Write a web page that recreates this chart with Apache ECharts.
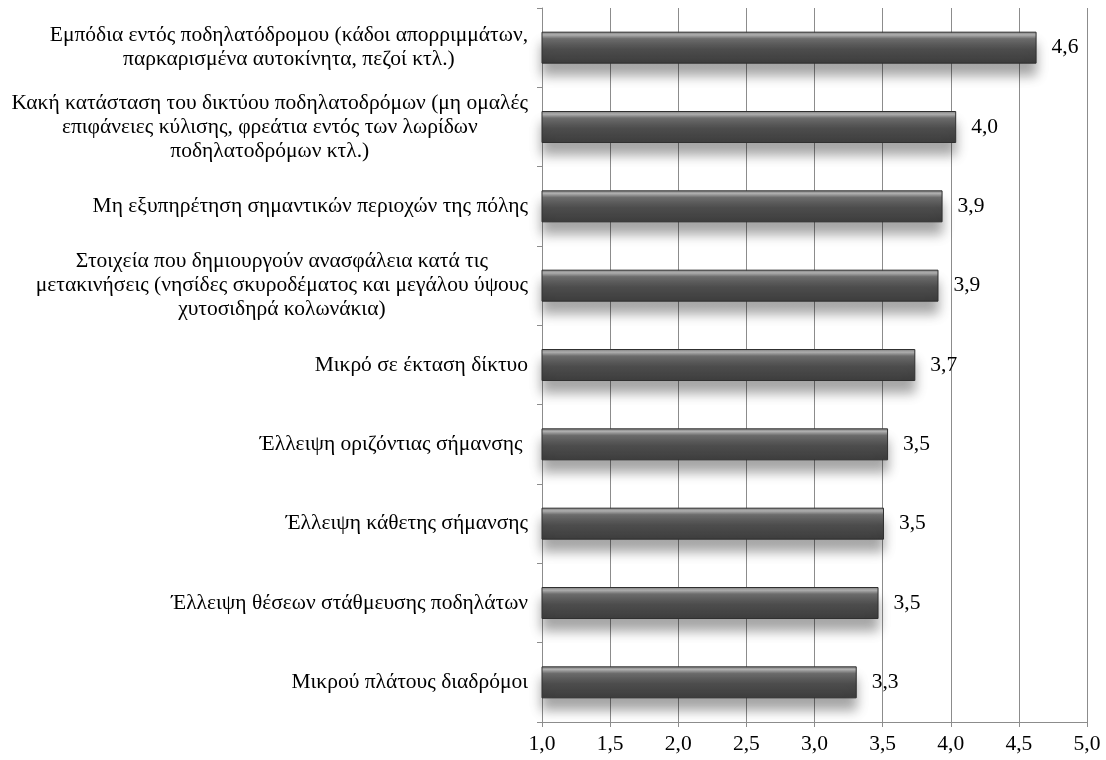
<!DOCTYPE html>
<html>
<head>
<meta charset="utf-8">
<script src="https://cdn.jsdelivr.net/npm/echarts@6/dist/echarts.min.js"></script>
<style>
  html, body { margin: 0; padding: 0; background: #ffffff; }
  #chart { width: 1106px; height: 760px; }
</style>
</head>
<body>
<div id="chart"></div>
<script>
// Problems of the cycling network, mean score (1–5), listed top to bottom
const categories = [
  'Εμπόδια εντός ποδηλατόδρομου (κάδοι απορριμμάτων,\nπαρκαρισμένα αυτοκίνητα, πεζοί κτλ.)',
  'Κακή κατάσταση του δικτύου ποδηλατοδρόμων (μη ομαλές\nεπιφάνειες κύλισης, φρεάτια εντός των λωρίδων\nποδηλατοδρόμων κτλ.)',
  'Μη εξυπηρέτηση σημαντικών περιοχών της πόλης',
  'Στοιχεία που δημιουργούν ανασφάλεια κατά τις\nμετακινήσεις (νησίδες σκυροδέματος και μεγάλου ύψους\nχυτοσιδηρά κολωνάκια)',
  'Μικρό σε έκταση δίκτυο',
  'Έλλειψη οριζόντιας σήμανσης ',
  'Έλλειψη κάθετης σήμανσης',
  'Έλλειψη θέσεων στάθμευσης ποδηλάτων',
  'Μικρού πλάτους διαδρόμοι'
];
const scores = [4.63, 4.04, 3.94, 3.91, 3.74, 3.54, 3.51, 3.47, 3.31];
const axisMin = 1.0;
const axisMax = 5.0;
const axisStep = 0.5;

const serif = '"Liberation Serif", "Times New Roman", "DejaVu Serif", serif';
const fontSize = 21.5;
const fmt = v => v.toFixed(1).replace('.', ',');

const chart = echarts.init(document.getElementById('chart'));
chart.setOption({
  animation: false,
  backgroundColor: '#ffffff',
  grid: { left: 542, right: 19, top: 8, bottom: 38, containLabel: false },
  xAxis: {
    type: 'value',
    min: axisMin,
    max: axisMax,
    interval: axisStep,
    axisLine: { show: true, lineStyle: { color: '#8c8c8c', width: 1 } },
    axisTick: { show: true, length: 5, lineStyle: { color: '#8c8c8c' } },
    splitLine: { show: true, lineStyle: { color: '#8c8c8c', width: 1 } },
    axisLabel: {
      formatter: fmt,
      color: '#000000',
      fontFamily: serif,
      fontSize: fontSize,
      margin: 11
    }
  },
  yAxis: {
    type: 'category',
    data: categories,
    inverse: true,
    axisLine: { show: true, lineStyle: { color: '#8c8c8c', width: 1 } },
    axisTick: { show: true, length: 5, lineStyle: { color: '#8c8c8c' } },
    axisLabel: {
      color: '#000000',
      fontFamily: serif,
      fontSize: fontSize,
      lineHeight: 24,
      margin: 14,
      align: 'right',
      formatter: v => v.split('\n').map(l => '{c|' + l + '}').join('\n'),
      rich: {
        c: { align: 'center', fontFamily: serif, fontSize: fontSize, lineHeight: 24, color: '#000000' }
      }
    }
  },
  series: [{
    type: 'bar',
    data: scores,
    barWidth: 32,
    itemStyle: {
      color: new echarts.graphic.LinearGradient(0, 0, 0, 1, [
        { offset: 0, color: '#7a7a7a' },
        { offset: 0.1, color: '#b0b0b0' },
        { offset: 0.22, color: '#6e6e6e' },
        { offset: 0.55, color: '#4e4e4e' },
        { offset: 1, color: '#3c3c3c' }
      ]),
      borderColor: '#303030',
      borderWidth: 1,
      shadowColor: 'rgba(0,0,0,0.35)',
      shadowBlur: 12,
      shadowOffsetY: 12
    },
    label: {
      show: true,
      position: 'right',
      distance: 15,
      formatter: p => fmt(p.value),
      color: '#000000',
      fontFamily: serif,
      fontSize: fontSize
    }
  }]
});
</script>
</body>
</html>
